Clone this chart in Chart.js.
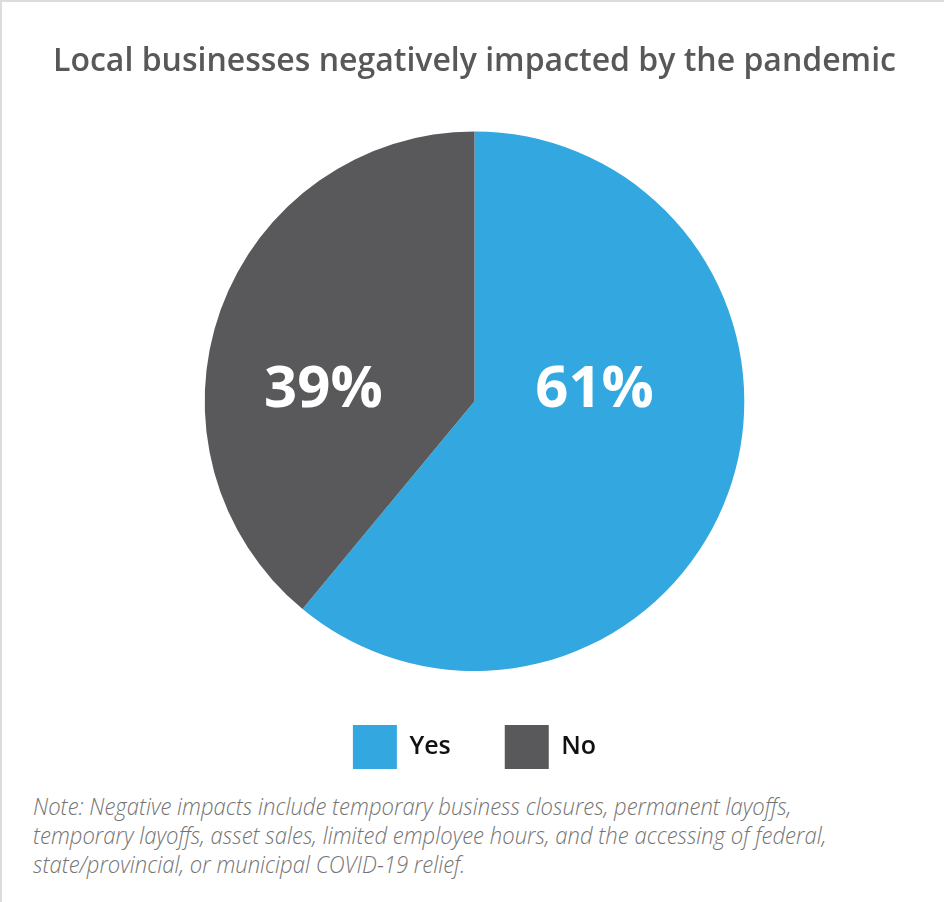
<!DOCTYPE html>
<html>
<head>
    <title>Local businesses negatively impacted by the pandemic</title>
    <script src="https://cdn.jsdelivr.net/npm/chart.js"></script>
    <style>
        body { margin: 0; background: #fff; }
        .wrap { position: relative; width: 944px; height: 902px; overflow: hidden; }
        .frame {
            position: absolute; left: 0; top: 0; width: 944px; height: 902px;
            border-top: 2px solid #dcdcdc; border-left: 2px solid #dcdcdc;
            box-sizing: border-box; pointer-events: none;
        }
        #pieChart { position: absolute; left: 0; top: 0; }
        .note {
            position: absolute; left: 33px; top: 792px;
            font-family: 'Open Sans', sans-serif; font-style: italic; font-weight: 300;
            font-size: 23px; line-height: 29px; color: #747474;
            white-space: nowrap; transform: scaleX(0.96); transform-origin: left top;
        }
    </style>
</head>
<body>
<div class="wrap">
    <canvas id="pieChart" width="944" height="779"></canvas>
    <div class="note">Note: Negative impacts include temporary business closures, permanent layoffs,<br>temporary layoffs, asset sales, limited employee hours, and the accessing of federal,<br>state/provincial, or municipal COVID-19 relief.</div>
    <div class="frame"></div>
</div>
<script>
    // data
    const labels = ['Yes', 'No'];
    const shares = [61, 39];
    const colors = ['#33a8e0', '#59595b'];

    // where the % text sits inside each slice (fraction of radius from centre)
    const pctLabels = {
        id: 'pctLabels',
        afterDatasetsDraw(chart) {
            const ctx = chart.ctx;
            const arcs = chart.getDatasetMeta(0).data;
            const shift = [0.445, -0.56];
            ctx.save();
            ctx.font = 'bold 58px "Open Sans"';
            ctx.fillStyle = '#ffffff';
            ctx.textAlign = 'center';
            ctx.textBaseline = 'middle';
            arcs.forEach((arc, i) => {
                const r = arc.outerRadius;
                ctx.fillText(shares[i] + '%', arc.x + shift[i] * r, arc.y - 0.04 * r);
            });
            ctx.restore();
        }
    };

    new Chart(document.getElementById('pieChart'), {
        type: 'pie',
        data: {
            labels: labels,
            datasets: [{
                data: shares,
                backgroundColor: colors,
                borderWidth: 0
            }]
        },
        options: {
            responsive: false,
            animation: false,
            events: [],
            layout: { padding: { left: 5 } },
            plugins: {
                title: {
                    display: true,
                    text: 'Local businesses negatively impacted by the pandemic',
                    color: '#58585a',
                    font: { family: 'Open Sans', size: 32, weight: '600' },
                    padding: { top: 43, bottom: 50 }
                },
                legend: {
                    position: 'bottom',
                    labels: {
                        boxWidth: 44,
                        boxHeight: 44,
                        padding: 54,
                        color: '#111111',
                        font: { family: 'Open Sans', size: 25, weight: '600' }
                    }
                },
                tooltip: { enabled: false }
            }
        },
        plugins: [pctLabels]
    });
</script>
</body>
</html>
